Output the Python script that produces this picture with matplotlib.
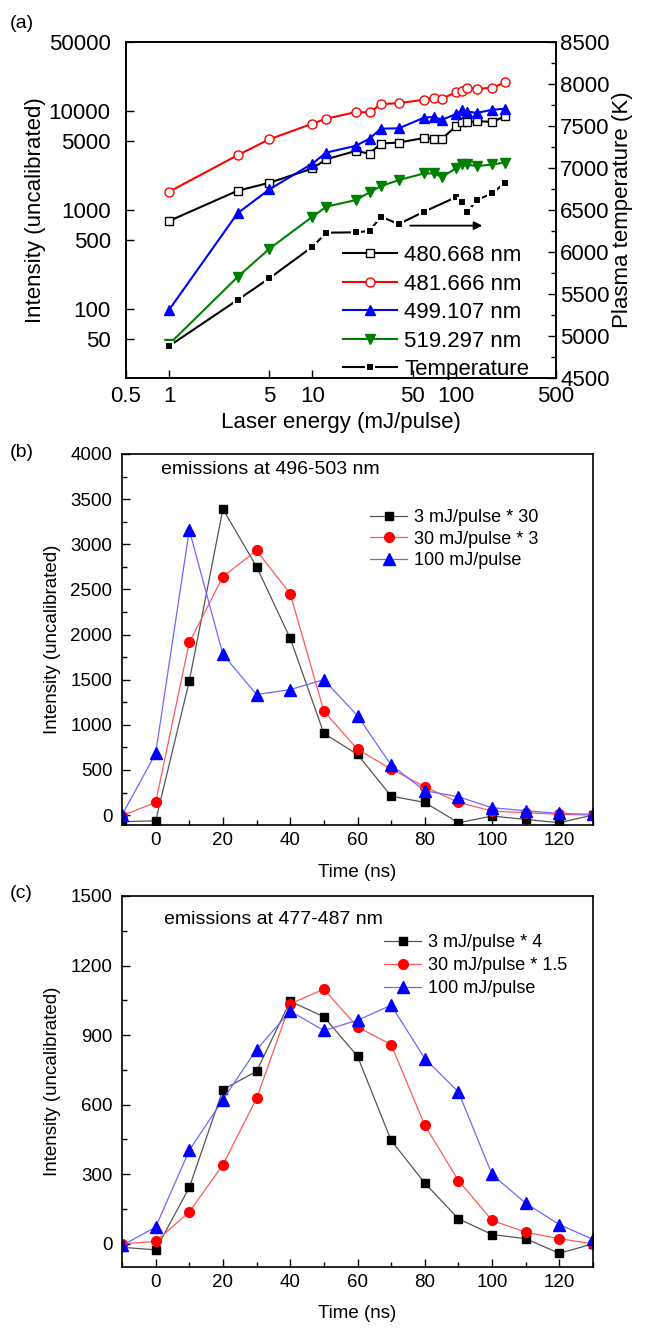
import numpy as np
import matplotlib
matplotlib.use('Agg')
import matplotlib.pyplot as plt
from matplotlib.lines import Line2D
from matplotlib.ticker import MultipleLocator, FixedLocator, NullLocator

plt.rcParams['font.family'] = ['Liberation Sans', 'DejaVu Sans']

# ---- panel (a): intensity vs laser energy ----
energy = [1, 3, 5, 10, 12.5, 20, 25, 30, 40, 60, 70, 80, 100, 110, 120, 140, 180, 220]
i_480 = [775, 1565, 1885, 2630, 3265, 3950, 3720, 4700, 4810, 5350, 5250, 5250,
         7000, 7700, 7700, 7900, 7800, 8840]
i_481 = [1530, 3580, 5190, 7470, 8380, 9770, 9700, 11760, 12040, 13030, 13640, 13330,
         15530, 15900, 17050, 16800, 17200, 19580]
i_499 = [98, 927, 1616, 2950, 3810, 4450, 5270, 6650, 6700, 8580, 8750, 8180,
         9300, 10160, 9900, 9600, 10320, 10570]
i_519 = [44, 210, 405, 857, 1080, 1260, 1505, 1745, 2005, 2345, 2345, 2160,
         2630, 2885, 2885, 2775, 2885, 3020]
temp_energy = [1, 3, 5, 10, 12.5, 20, 25, 30, 40, 60, 100, 110, 120, 140, 180, 220]
temp = [4881, 5429, 5687, 6063, 6230, 6234, 6250, 6420, 6333, 6480,
        6651, 6591, 6472, 6619, 6699, 6825]
a_labels = ['480.668 nm', '481.666 nm', '499.107 nm', '519.297 nm', 'Temperature']

# ---- panels (b), (c): time resolved emissions ----
time_ns = [-10, 0, 10, 20, 30, 40, 50, 60, 70, 80, 90, 100, 110, 120, 130]
b_3mj = [-74, -63, 1485, 3390, 2751, 1958, 905, 672, 210, 140, -85, -11, -48, -85, 0]
b_30mj = [-7, 140, 1913, 2640, 2931, 2452, 1152, 728, 510, 314, 140, 44, 26, 8, 0]
b_100mj = [0, 683, 3158, 1780, 1335, 1390, 1500, 1100, 554, 270, 203, 81, 48, 18, 8]
b_labels = ['3 mJ/pulse * 30', '30 mJ/pulse * 3', '100 mJ/pulse']

c_3mj = [-15, -26, 243, 665, 744, 1046, 979, 809, 446, 262, 108, 40, 22, -41, 0]
c_30mj = [0, 10, 137, 341, 627, 1035, 1098, 935, 859, 511, 273, 101, 50, 22, 0]
c_100mj = [-7, 72, 403, 622, 838, 1003, 920, 964, 1029, 799, 655, 299, 175, 83, 19]
c_labels = ['3 mJ/pulse * 4', '30 mJ/pulse * 1.5', '100 mJ/pulse']

W, H = 650, 1329
fig = plt.figure(figsize=(W / 100, H / 100), dpi=100)


def px_axes(l, t, r, b):
    return fig.add_axes([l / W, 1 - b / H, (r - l) / W, (b - t) / H])


# ================= (a) =================
fsa = 16
ax = px_axes(126, 42, 556, 378)
ax.set_xscale('log')
ax.set_yscale('log')
ax.set_xlim(0.5, 500)
ax.set_ylim(20, 50000)

lw = 1.5
ax.plot(energy, i_480, '-s', color='black', mfc='white', mec='black', ms=6, lw=lw, mew=1)
ax.plot(energy, i_481, '-o', color='red', mfc='white', mec='red', ms=6.5, lw=lw, mew=1)
ax.plot(energy, i_499, '-^', color='blue', mfc='blue', mec='blue', ms=7.5, lw=lw)
ax.plot(energy, i_519, '-v', color='green', mfc='green', mec='green', ms=7.5, lw=lw)

ax.set_xticks([0.5, 1, 5, 10, 50, 100, 500])
ax.set_xticklabels(['0.5', '1', '5', '10', '50', '100', '500'])
ax.xaxis.set_minor_locator(NullLocator())
ax.set_yticks([50, 100, 500, 1000, 5000, 10000, 50000])
ax.set_yticklabels(['50', '100', '500', '1000', '5000', '10000', '50000'])
ax.yaxis.set_minor_locator(NullLocator())
ax.tick_params(direction='in', labelsize=fsa, length=6, width=1, top=False, right=False)
ax.tick_params(axis='y', pad=11)
ax.tick_params(axis='x', pad=5.5)
ax.set_xlabel('Laser energy (mJ/pulse)', fontsize=fsa, labelpad=4)
ax.set_ylabel('Intensity (uncalibrated)', fontsize=fsa, labelpad=2)

ax2 = ax.twinx()
ax2.set_ylim(4500, 8500)
ax2.plot(temp_energy, temp, '-', color='black', lw=lw)
ax2.plot(temp_energy, temp, 's', color='black', ms=6, mec='white', mew=1.5)
ax2.yaxis.set_major_locator(MultipleLocator(500))
ax2.yaxis.set_minor_locator(MultipleLocator(250))
ax2.tick_params(which='major', direction='in', labelsize=fsa, length=6, width=1, pad=3)
ax2.tick_params(which='minor', direction='in', length=3.5, width=1)
ax2.set_ylabel('Plasma temperature (K)', fontsize=fsa, labelpad=2)

ax.annotate('', xy=(160, 695), xytext=(46, 695),
            arrowprops=dict(arrowstyle='-|>', color='black', lw=1.3,
                            mutation_scale=12))

handles = [
    Line2D([], [], color='black', marker='s', mfc='white', ms=6, lw=lw),
    Line2D([], [], color='red', marker='o', mfc='white', ms=6.5, lw=lw),
    Line2D([], [], color='blue', marker='^', ms=7.5, lw=lw),
    Line2D([], [], color='green', marker='v', ms=7.5, lw=lw),
    Line2D([], [], color='black', marker='s', ms=6, mec='white', mew=1.5, lw=lw),
]
ax2.legend(handles, a_labels, loc='upper left', bbox_to_anchor=(343 / W, 1 - 245 / H),
           bbox_transform=fig.transFigure, frameon=False, fontsize=fsa,
           handlelength=2.45, handletextpad=0.3, labelspacing=0.34,
           borderpad=0, borderaxespad=0)
for a in (ax, ax2):
    for s in a.spines.values():
        s.set_linewidth(1.2)
fig.text(10 / W, 1 - 23 / H, '(a)', fontsize=14, va='center')


# ================= (b), (c) =================
def time_panel(top, bottom, s1, s2, s3, labels, ymax, ymin, ymajor, text, text_xy,
               leg_xy, leg_sp, xlpad, tag):
    fs = 13.5
    axb = px_axes(122, top, 593, bottom)
    axb.plot(time_ns, s1, '-', color='#555555', lw=0.9)
    axb.plot(time_ns, s1, 's', color='black', ms=6)
    axb.plot(time_ns, s2, '-', color='#ff5a5a', lw=0.9)
    axb.plot(time_ns, s2, 'o', color='red', ms=7)
    axb.plot(time_ns, s3, '-', color='#6a6aff', lw=0.9)
    axb.plot(time_ns, s3, '^', color='blue', ms=8.5)
    axb.set_xlim(-10, 130)
    axb.set_ylim(ymin, ymax)
    axb.xaxis.set_major_locator(FixedLocator([0, 20, 40, 60, 80, 100, 120]))
    axb.xaxis.set_minor_locator(MultipleLocator(10))
    axb.yaxis.set_major_locator(MultipleLocator(ymajor))
    axb.yaxis.set_minor_locator(MultipleLocator(ymajor / 2))
    axb.tick_params(which='major', direction='in', labelsize=fs, length=6, width=1)
    axb.tick_params(which='minor', direction='in', length=3.5, width=1)
    axb.tick_params(axis='y', pad=7)
    axb.tick_params(axis='x', pad=5)
    axb.set_xlabel('Time (ns)', fontsize=fs, labelpad=xlpad)
    axb.set_ylabel('Intensity (uncalibrated)', fontsize=fs, labelpad=7)
    for s in axb.spines.values():
        s.set_linewidth(1.2)
    axb.text(text_xy[0], text_xy[1], text, transform=axb.transAxes, fontsize=14,
             va='center')
    hs = [
        Line2D([], [], color='#555555', lw=0.9, marker='s', mfc='black', mec='black', ms=6),
        Line2D([], [], color='#ff5a5a', lw=0.9, marker='o', mfc='red', mec='red', ms=7),
        Line2D([], [], color='#6a6aff', lw=0.9, marker='^', mfc='blue', mec='blue', ms=8.5),
    ]
    axb.legend(hs, labels, loc='upper left', bbox_to_anchor=leg_xy,
               bbox_transform=fig.transFigure, frameon=False, fontsize=13,
               handlelength=2.05, handletextpad=0.4, labelspacing=leg_sp,
               borderpad=0, borderaxespad=0)
    fig.text(10 / W, 1 - (top - 2) / H, tag, fontsize=14, va='center')
    return axb


time_panel(454, 825, b_3mj, b_30mj, b_100mj, b_labels, 4000, -110, 500,
           'emissions at 496-503 nm', (0.083, 0.957), (370 / W, 1 - 509 / H), 0.26,
           10.5, '(b)')
time_panel(896, 1267, c_3mj, c_30mj, c_100mj, c_labels, 1500, -100, 300,
           'emissions at 477-487 nm', (0.09, 0.938), (384 / W, 1 - 934 / H), 0.34,
           10, '(c)')

fig.savefig('out.png', dpi=100)
